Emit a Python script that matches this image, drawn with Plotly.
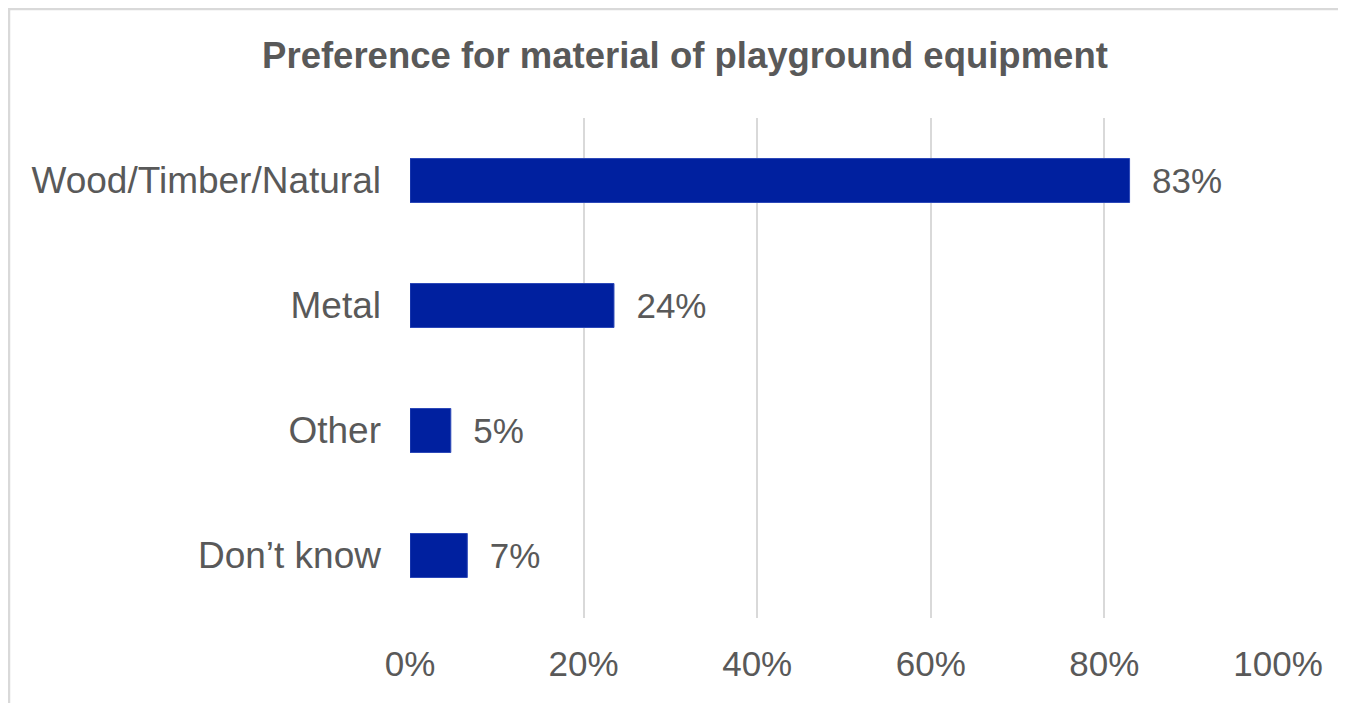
import plotly.graph_objects as go

# survey answers
materials = ["Wood/Timber/Natural", "Metal", "Other", "Don’t know"]
shares = [82.9, 23.5, 4.7, 6.6]
tick_vals = [0, 20, 40, 60, 80, 100]
tick_text = ["0%", "20%", "40%", "60%", "80%", "100%"]

font_family = "Liberation Sans, Arial, sans-serif"
grey_text = "#595959"

# the page sits 8px in from the window edge, so the figure is 8px smaller
W, H = 1338, 695
plot_l, plot_r, plot_t, plot_b = 402, 1270, 110, 610

fig = go.Figure()
fig.add_trace(go.Bar(
    x=shares,
    y=materials,
    orientation="h",
    marker=dict(color="#00209F", line=dict(color="#2c48b8", width=1)),
    texttemplate="\u00a0\u00a0%{x:.0f}%",
    textposition="outside",
    textfont=dict(family=font_family, size=35, color=grey_text),
    cliponaxis=False,
    hoverinfo="skip",
))

fig.update_xaxes(
    range=[0, 100],
    tickvals=tick_vals,
    ticktext=tick_text,
    showgrid=True,
    gridcolor="#d9d9d9",
    gridwidth=2,
    zeroline=False,
    showline=False,
    ticks="",
    ticklabelstandoff=22,
    tickfont=dict(family=font_family, size=35, color=grey_text),
    fixedrange=True,
)
fig.update_yaxes(
    categoryorder="array",
    categoryarray=materials,
    autorange="reversed",
    showgrid=False,
    showline=False,
    ticks="",
    ticklabelstandoff=28,
    tickfont=dict(family=font_family, size=37, color=grey_text),
    fixedrange=True,
)

# light frame round the chart (only top and left edges fall inside the picture)
pw, ph = plot_r - plot_l, plot_b - plot_t
fig.add_shape(
    type="rect", xref="paper", yref="paper",
    x0=(1 - plot_l) / pw, x1=(W + 40 - plot_l) / pw,
    y0=(plot_b - H - 40) / ph, y1=(plot_b - 1) / ph,
    line=dict(color="#d9d9d9", width=2.5),
    layer="below",
)

fig.update_layout(
    width=W,
    height=H,
    margin=dict(l=plot_l, r=W - plot_r, t=plot_t, b=H - plot_b),
    bargap=0.648,
    showlegend=False,
    plot_bgcolor="white",
    paper_bgcolor="white",
    title=dict(
        text="<b>Preference for material of playground equipment</b>",
        x=677 / W, xanchor="center", xref="container",
        y=1 - 47 / H, yanchor="middle", yref="container",
        font=dict(family=font_family, size=36.5, color=grey_text),
    ),
)

fig.write_html("out.html", config={"displayModeBar": False})
